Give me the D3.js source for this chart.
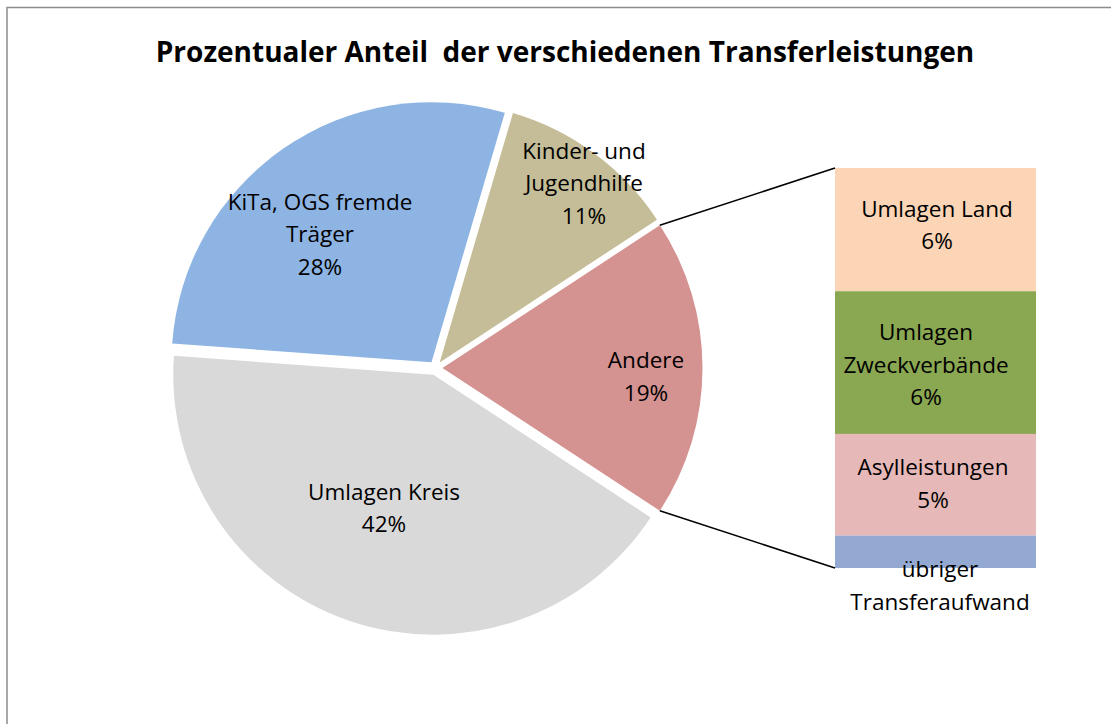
<!DOCTYPE html>
<html>
<head>
<meta charset="utf-8">
<script src="https://cdn.jsdelivr.net/npm/d3@7"></script>
<style>
	body { margin: 0; background: #fff; }
	svg text { font-family: "Open Sans", Lato, sans-serif; fill: #000; }
</style>
</head>
<body>
<div id="container"></div>
<script>
// pie: "Andere" is split out into the bar on the right
var pieNames = [["Andere"], ["Umlagen Kreis"], ["KiTa, OGS fremde", "Träger"], ["Kinder- und", "Jugendhilfe"]];
var pieValues = [18.5, 41.9, 28.4, 11.2];
var pieLabels = ["19%", "42%", "28%", "11%"];
var pieColors = ["#D49291", "#D9D9D9", "#8EB4E3", "#C4BD97"];

var barNames = [["Umlagen Land"], ["Umlagen", "Zweckverbände"], ["Asylleistungen"], ["übriger", "Transferaufwand"]];
var barValues = [5.7, 6.6, 4.7, 1.5];
var barLabels = ["6%", "6%", "5%", ""];
var barColors = ["#FBD5B5", "#8AA751", "#E6B9B8", "#93A9D1"];

var title = "Prozentualer Anteil  der verschiedenen Transferleistungen";

(function () {
	var W = 1111, H = 724;
	var cx = 435.5, cy = 368, radius = 260, explode = 7;
	var bar = {x: 835, y: 168, width: 201, height: 400};
	var lineH = 32.5;

	var svg = d3.select("#container").append("svg")
		.attr("width", W)
		.attr("height", H);

	// chart frame (only top and left edges fall inside the picture)
	svg.append("rect")
		.attr("x", 7).attr("y", 7.5)
		.attr("width", W + 20).attr("height", H + 20)
		.attr("fill", "none")
		.attr("stroke", "#8c8c8c")
		.attr("stroke-width", 1.5);

	svg.append("text")
		.attr("x", 565)
		.attr("y", 62)
		.attr("text-anchor", "middle")
		.style("font-weight", "bold")
		.style("font-size", "28px")
		.style("white-space", "pre")
		.text(title);

	var total = d3.sum(pieValues);
	var half = Math.PI * pieValues[0] / total;
	var pie = d3.pie()
		.sort(null)
		.startAngle(Math.PI / 2 - half)
		.endAngle(Math.PI / 2 - half + 2 * Math.PI);
	var arcs = pie(pieValues);
	var arc = d3.arc().innerRadius(0).outerRadius(radius);

	function offset(d) {
		var a = (d.startAngle + d.endAngle) / 2;
		return [cx + explode * Math.sin(a), cy - explode * Math.cos(a)];
	}

	var slices = svg.selectAll(".slice")
		.data(arcs)
		.enter()
		.append("g")
			.attr("class", "slice")
			.attr("transform", function(d) { var o = offset(d); return "translate(" + o[0] + "," + o[1] + ")"; });

	slices.append("path")
		.attr("d", arc)
		.attr("fill", function(d, i) { return pieColors[i]; });

	// label anchor points (centre x, first baseline)
	var pieLabelPos = [[646, 368], [384, 499.5], [320, 209.5], [584, 158.5]];
	arcs.forEach(function(d, i) {
		var lines = pieNames[i].concat([pieLabels[i]]);
		var t = svg.append("text")
			.attr("text-anchor", "middle")
			.style("font-size", "22.5px");
		lines.forEach(function(s, j) {
			t.append("tspan")
				.attr("x", pieLabelPos[i][0])
				.attr("y", pieLabelPos[i][1] + j * lineH)
				.text(s);
		});
	});

	// bar of "Andere"
	var yScale = d3.scaleLinear()
		.domain([0, d3.sum(barValues)])
		.range([bar.y, bar.y + bar.height]);
	var stack = d3.cumsum(barValues);

	svg.selectAll(".bar")
		.data(barValues)
		.enter()
		.append("rect")
			.attr("class", "bar")
			.attr("x", bar.x)
			.attr("width", bar.width)
			.attr("y", function(d, i) { return yScale(stack[i] - d); })
			.attr("height", function(d) { return yScale(d) - yScale(0); })
			.attr("fill", function(d, i) { return barColors[i]; });

	var barLabelPos = [[937, 216.5], [926, 340], [933, 475], [940, 577]];
	barValues.forEach(function(d, i) {
		var lines = barNames[i].slice();
		if (barLabels[i]) lines.push(barLabels[i]);
		var t = svg.append("text")
			.attr("text-anchor", "middle")
			.style("font-size", "22.5px");
		lines.forEach(function(s, j) {
			t.append("tspan")
				.attr("x", barLabelPos[i][0])
				.attr("y", barLabelPos[i][1] + j * lineH)
				.text(s);
		});
	});

	// connector lines from the split slice to the bar
	var a0 = arcs[0], o0 = offset(a0);
	var p1 = [o0[0] + radius * Math.sin(a0.startAngle), o0[1] - radius * Math.cos(a0.startAngle)];
	var p2 = [o0[0] + radius * Math.sin(a0.endAngle), o0[1] - radius * Math.cos(a0.endAngle)];
	var conn = [[p1, [bar.x, yScale(0)]], [p2, [bar.x, yScale(d3.sum(barValues))]]];
	svg.selectAll(".conn")
		.data(conn)
		.enter()
		.append("line")
			.attr("class", "conn")
			.attr("x1", function(d) { return d[0][0]; })
			.attr("y1", function(d) { return d[0][1]; })
			.attr("x2", function(d) { return d[1][0]; })
			.attr("y2", function(d) { return d[1][1]; })
			.attr("stroke", "#000")
			.attr("stroke-width", 1.5);
})();
</script>
</body>
</html>
